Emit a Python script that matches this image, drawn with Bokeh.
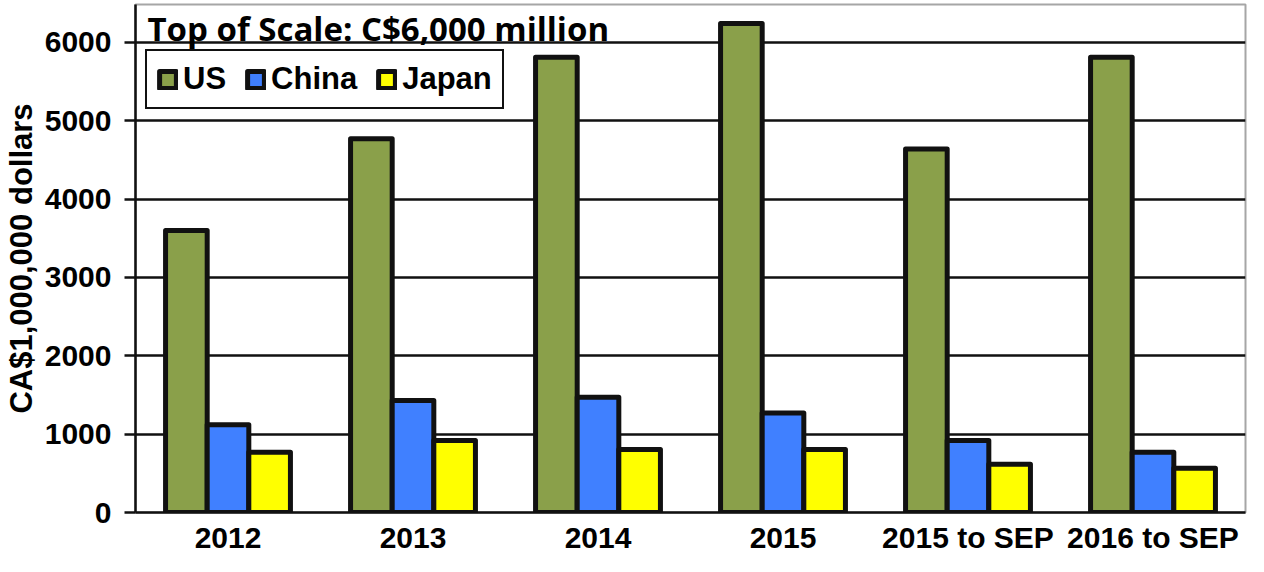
from bokeh.plotting import figure
from bokeh.models import (ColumnDataSource, FactorRange, Range1d, FixedTicker,
                          Legend, LegendItem, Label)
from bokeh.transform import dodge
from bokeh.embed import file_html
from bokeh.resources import INLINE

categories = ["2012", "2013", "2014", "2015", "2015 to SEP", "2016 to SEP"]
us = [3600, 4770, 5810, 6240, 4640, 5810]
china = [1120, 1430, 1470, 1270, 920, 770]
japan = [770, 920, 805, 805, 615, 565]
series_names = ["US", "China", "Japan"]
series_colors = ["#8AA04A", "#4080FF", "#FFFF00"]
y_ticks = [0, 1000, 2000, 3000, 4000, 5000, 6000]
title_text = "Top of Scale: C$6,000 million"
y_label = "CA$1,000,000 dollars"

source = ColumnDataSource(dict(cat=categories, US=us, China=china, Japan=japan))

p = figure(width=1248, height=556, output_backend="svg", toolbar_location=None,
           x_range=FactorRange(*categories), y_range=Range1d(0, 6484),
           min_border_left=127, min_border_right=3, min_border_top=4,
           min_border_bottom=20)

p.background_fill_color = "white"
p.border_fill_color = "white"
p.outline_line_color = "#A6A6A6"
p.outline_line_width = 2

bw = 0.225
offsets = [-bw, 0.0, bw]
renderers = []
for name, col, off in zip(series_names, series_colors, offsets):
    r = p.vbar(x=dodge("cat", off, range=p.x_range), top=name, width=bw,
               source=source, fill_color=col, line_color="#111111",
               line_width=5, line_join="round")
    renderers.append(r)

# grid
p.xgrid.grid_line_color = None
p.ygrid.grid_line_color = "#111111"
p.ygrid.grid_line_width = 2.5
p.ygrid.ticker = FixedTicker(ticks=y_ticks)

# y axis
p.yaxis.ticker = FixedTicker(ticks=y_ticks)
p.yaxis.axis_line_color = "#111111"
p.yaxis.axis_line_width = 2.5
p.yaxis.major_tick_line_color = "#111111"
p.yaxis.major_tick_line_width = 2.5
p.yaxis.major_tick_out = 11
p.yaxis.major_tick_in = 0
p.yaxis.minor_tick_line_color = None
p.yaxis.major_label_text_font = "Liberation Sans"
p.yaxis.major_label_text_font_style = "bold"
p.yaxis.major_label_text_font_size = "30px"
p.yaxis.major_label_text_color = "black"
p.yaxis.major_label_standoff = 13
p.yaxis.axis_label = y_label
p.yaxis.axis_label_text_font = "Liberation Sans"
p.yaxis.axis_label_text_font_style = "bold"
p.yaxis.axis_label_text_font_size = "31px"
p.yaxis.axis_label_text_color = "black"
p.yaxis.axis_label_standoff = 3

# x axis
p.xaxis.axis_line_color = "#111111"
p.xaxis.axis_line_width = 2.5
p.xaxis.major_tick_line_color = None
p.xaxis.minor_tick_line_color = None
p.xaxis.major_tick_out = 0
p.xaxis.major_label_text_font = "Liberation Sans"
p.xaxis.major_label_text_font_style = "bold"
p.xaxis.major_label_text_font_size = "30px"
p.xaxis.major_label_text_color = "black"
p.xaxis.major_label_standoff = 8

# legend
legend = Legend(items=[LegendItem(label=n, renderers=[r]) for n, r in zip(series_names, renderers)],
                orientation="horizontal", location=(10, 403))
legend.label_text_font = "Liberation Sans"
legend.label_text_font_style = "bold"
legend.label_text_font_size = "31px"
legend.label_text_color = "black"
legend.glyph_width = 21
legend.glyph_height = 21
legend.label_standoff = 5
legend.spacing = 19
legend.padding = 10
legend.margin = 0
legend.border_line_color = "#111111"
legend.border_line_alpha = 1
legend.border_line_width = 2.5
legend.background_fill_color = "white"
legend.background_fill_alpha = 1
p.add_layout(legend, "center")

title = Label(x=12, y=484, x_units="screen", y_units="screen", text=title_text,
              text_font="Open Sans", text_font_style="bold", text_font_size="33px",
              text_color="black", text_baseline="alphabetic")
p.add_layout(title)

open("out.html", "w").write(file_html(p, INLINE))
